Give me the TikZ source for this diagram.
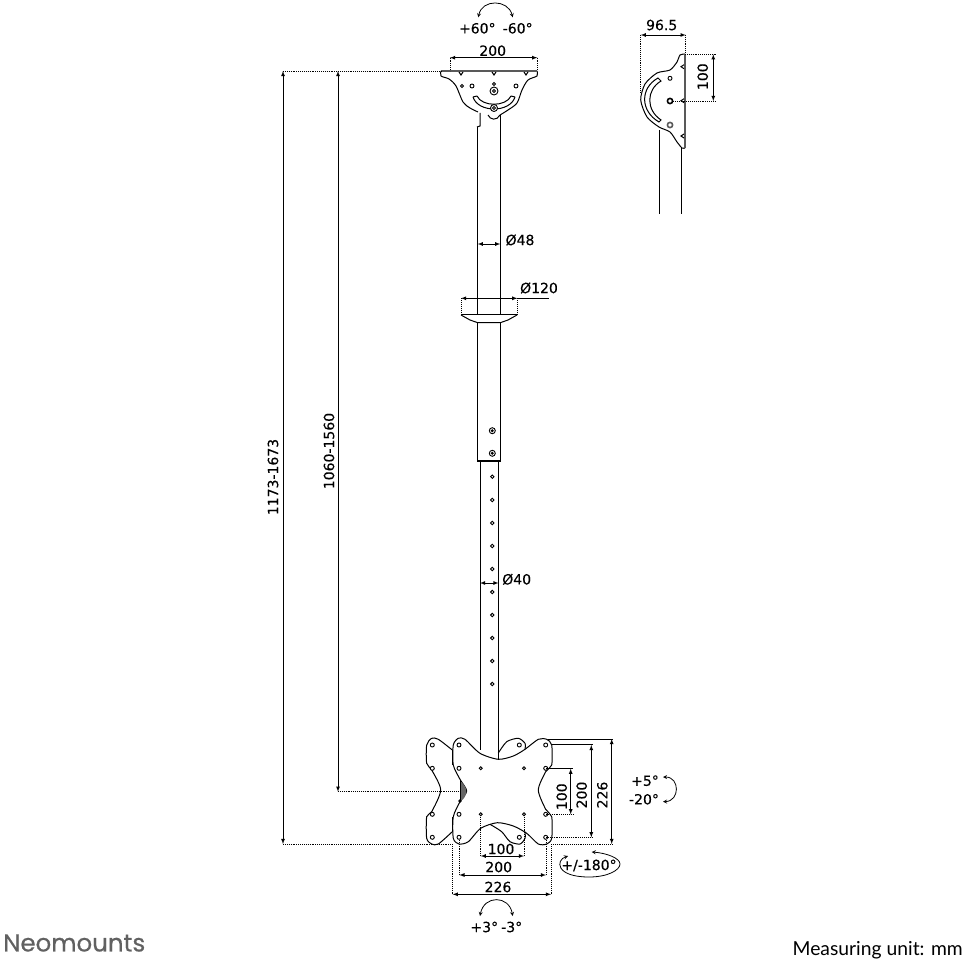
\documentclass[tikz,border=0pt]{standalone}
\usepackage{fontspec}
\setmainfont[FakeBold=0.25]{DejaVu Sans}
\newfontfamily\logofont[FakeBold=0.5]{Poppins}
\newfontfamily\unitfont{Lato}
\usepgflibrary{arrows}
\tikzset{
  partline/.style={line width=1pt},
  dimline/.style={line width=.8pt,<->,>=latex},
  helpline/.style={line width=.9pt,densely dotted},
  turnline/.style={line width=.8pt,<->,>=stealth},
  platebar/.style={line width=1.8pt,black!65},
  dimlabel/.style={font=\fontsize{14}{14}\selectfont,inner sep=0pt},
  hole/.style={line width=.9pt,draw,fill=white},
}
\begin{document}
\begin{tikzpicture}[x=1pt,y=-1pt]
  \useasboundingbox (0,0) rectangle (968,968);
  % ceiling bracket, front
  \draw[partline] plot[smooth,tension=.5] coordinates {(441,71) (441,76) (449,79) (456,86) (463,102) (470,108) (478,112)};
  \draw[partline] plot[smooth,tension=.5] coordinates {(537,71) (537,76) (528,80) (522,90) (517,103) (508,110) (500,115)};
  \draw[platebar] (441,71) -- (537,71);
  \foreach \x in {461,494,526}
    \draw[partline] (\x-2,72) -- (\x,75) -- (\x+2,72);
  \draw[partline] (473,97) .. controls (478,113) and (510,113) .. (515,97);
  \draw[partline] (477,96) .. controls (482,107) and (506,107) .. (511,96);
  \draw[partline] (473,97) -- (477,96) (515,97) -- (511,96);
  \foreach \x/\r in {462/1.5,472/2,516/2}
    \draw[hole] (\x,86) circle (\r);
  \draw[hole] (494,84) circle (1.5);
  \draw[hole] (494,91) circle (4);
  \draw[hole] (494,91) circle (1.5);
  \draw[hole] (494,108) circle (3.5);
  \draw[hole] (494,108) circle (1.5);
  \draw[partline] (488,115) .. controls (490,120) and (497,121) .. (500,115);
  % pole
  \draw[partline] (480,113) -- (480,126) -- (477,127);
  \draw[partline] (477.7,127) -- (477.7,314) (500.3,115) -- (500.3,314);
  \draw[line width=1.8pt] (461,314.5) -- (517,314.5);
  \draw[partline] (461,315) -- (470,320) -- (477.7,322.7) -- (500.3,322.7) -- (508,320) -- (517,315);
  \draw[partline] (477.7,323) -- (477.7,460) (500.3,323) -- (500.3,460);
  \draw[line width=1.6pt] (477,461) -- (501,461);
  \draw[partline] (480,462) -- (480,750) (498.5,462) -- (498.5,759);
  \foreach \y in {430.7,453.3} {
    \draw[hole] (492.3,\y) circle (3);
    \draw[hole] (492.3,\y) circle (1);
  }
  \foreach \y in {476.7,500,523,546,569,592,615,638,661,684}
    \draw[hole] (492.3,\y) circle (1.7);
  % rear plate
  \draw[partline] plot[smooth,tension=.45] coordinates {(452.3,750) (438.3,739.3) (431.7,738.3) (426.7,745) (426.7,763.3) (431.7,770) (440.7,790) (431.7,811.7) (426.7,816.7) (426.7,838.3) (431.7,844) (438.3,844) (452.3,831.7)};
  \draw[partline] plot[smooth,tension=.45] coordinates {(498.3,753) (506.7,741.7) (518.3,738.3) (525,743.3) (525,749.3)};
  \draw[partline] plot[smooth,tension=.45] coordinates {(490,824.3) (501.7,831.7) (510,841.7) (520,844) (525,838.3) (525,831.7)};
  % front plate
  \draw[partline] plot[smooth cycle,tension=.45] coordinates {(453.3,745) (458.3,738.3) (465,739.3) (480,753.3) (498.3,759.3) (513.3,756) (525,749.3) (538.3,739.3) (546.7,739.3) (551.7,745) (551.7,765) (545.7,771.7) (538.3,790) (545.7,809.3) (551.7,816.7) (551.7,838.3) (546.7,844) (538.3,844) (526.7,833.3) (513.3,826) (497.3,822.7) (480.7,828.3) (468.3,841.7) (459,844) (453.3,838.3) (453.3,816.7) (460,801.7) (466.7,791) (460,779.3) (453.3,765)};
  \draw[line width=1.6pt] (452.5,750) -- (452.5,765) (452.5,817) -- (452.5,832);
  \draw[line width=1.6pt] (460.5,780) -- (460.5,801);
  \fill[black!60] (461,782) .. controls (468,787) and (468,796) .. (461,801) -- cycle;
  \fill (460,801) circle (1.8);
  \foreach \x in {432.3,459,519.3,545.7}
    \foreach \y in {745,837.3}
      \draw[hole] (\x,\y) circle (2);
  \foreach \x in {432.3,459,545.7}
    \foreach \y in {768.3,814.3}
      \draw[hole] (\x,\y) circle (2);
  \foreach \x in {480.7,524}
    \foreach \y in {768.3,814.3}
      \draw[hole] (\x,\y) circle (1.5);
  % side view
  \draw[partline] plot[smooth,tension=.45] coordinates {(685,54) (680,55) (677,62) (670,70) (657,73) (645,84) (640.7,100) (647,117) (659,127) (670,132) (677,142) (682,148) (685,148)};
  \draw[partline] (658,78) .. controls (640,88) and (640,111) .. (659,122) -- (661,120) .. controls (646,110) and (646,90) .. (661,81) -- cycle;
  \draw[platebar] (684.7,54) -- (684.7,148.3);
  \foreach \y in {66.7,100.7,136}
    \draw[partline] (684,\y-2) -- (681,\y) -- (684,\y+2);
  \draw[hole] (670,78.3) circle (2);
  \draw[hole,line width=1.6pt] (670,101) circle (2.6);
  \draw[hole,line width=1.6pt,draw=black!65] (670,125) circle (2.6);
  \draw[partline] (659,130) -- (659,214) (681.7,148) -- (681.7,214);
  % overall heights
  \coordinate (tophigh) at (283,71);
  \coordinate (toplow) at (338,71);
  \coordinate (baselong) at (283,844);
  \coordinate (baseshort) at (338,791.7);
  \draw[helpline] (tophigh) -- (441,71);
  \draw[helpline] (baselong) -- (453,844);
  \draw[helpline] (baseshort) -- (458,791.7);
  \draw[dimline] (tophigh) -- (baselong);
  \draw[dimline] (toplow) -- (baseshort);
  \node[dimlabel,rotate=90] (longtext) at (273,477) {1173-1673};
  \node[dimlabel,rotate=90] (shorttext) at (329,451) {1060-1560};
  % top dimensions
  \coordinate (widthl) at (450,57.7);
  \coordinate (widthr) at (537.3,57.7);
  \draw[helpline] (widthl) -- (450,71) (widthr) -- (537.3,71);
  \draw[dimline] (widthl) -- (widthr);
  \node[dimlabel] (widthtext) at (492.7,50.7) {200};
  \node[dimlabel] (tiltl) at (477.3,28.3) {+60°};
  \node[dimlabel] (tiltr) at (517.7,28.3) {-60°};
  \draw[turnline] (478.3,17.3) .. controls (482,-1) and (508,-1) .. (512.7,17.3);
  % side view dimensions
  \coordinate (depthl) at (640.7,35);
  \coordinate (depthr) at (685.7,35);
  \coordinate (riseu) at (713.3,54.3);
  \coordinate (rised) at (713.3,101);
  \draw[helpline] (depthl) -- (640.7,93) (depthr) -- (685.7,54);
  \draw[helpline] (685,54.3) -- (716,54.3) (673,101) -- (716,101);
  \draw[dimline] (depthl) -- (depthr);
  \draw[dimline] (riseu) -- (rised);
  \node[dimlabel] (depthtext) at (661.7,25) {96.5};
  \node[dimlabel,rotate=90] (risetext) at (702.7,76.7) {100};
  % pole diameters
  \coordinate (thinl) at (477.7,244);
  \coordinate (thinr) at (500.3,244);
  \coordinate (collarl) at (461,298.3);
  \coordinate (collarr) at (517.3,298.3);
  \coordinate (lowl) at (480,583);
  \coordinate (lowr) at (498.5,583);
  \draw[dimline] (thinl) -- (thinr);
  \draw[helpline] (collarl) -- (461,314) (collarr) -- (517.3,314);
  \draw[dimline] (collarl) -- (collarr);
  \draw[line width=.8pt] (collarr) -- (549,298.3);
  \draw[dimline] (lowl) -- (lowr);
  \node[dimlabel] (thintext) at (520,240) {Ø48};
  \node[dimlabel] (collartext) at (539,288) {Ø120};
  \node[dimlabel] (lowtext) at (516.7,579.3) {Ø40};
  % bottom dimensions
  \coordinate (holel) at (480.7,856);
  \coordinate (holer) at (524,856);
  \coordinate (midl) at (459.3,875);
  \coordinate (midr) at (546,875);
  \coordinate (outl) at (452.7,894.3);
  \coordinate (outr) at (551,894.3);
  \draw[helpline] (holel) -- (480.7,815) (holer) -- (524,815);
  \draw[helpline] (midl) -- (459.3,840) (midr) -- (546,840);
  \draw[helpline] (outl) -- (452.7,844) (outr) -- (551,844);
  \draw[dimline] (holel) -- (holer);
  \draw[dimline] (midl) -- (midr);
  \draw[dimline] (outl) -- (outr);
  \node[dimlabel] (holetext) at (501,849) {100};
  \node[dimlabel] (midtext) at (498.7,867) {200};
  \node[dimlabel] (outtext) at (498,887) {226};
  \node[dimlabel] (swingl) at (484.3,927) {+3°};
  \node[dimlabel] (swingr) at (511.7,927) {-3°};
  \draw[turnline] (480,916) .. controls (484,895) and (509,895) .. (512.7,916);
  % right dimensions
  \coordinate (holeu) at (570.7,768.7);
  \coordinate (holed) at (570.7,814.3);
  \coordinate (midu) at (591.3,745);
  \coordinate (midd) at (591.3,837.3);
  \coordinate (outu) at (611.7,739);
  \coordinate (outd) at (611.7,844);
  \draw[partline] (548,739) -- (613,739) (551,744.3) -- (593,744.3) (546,768.7) -- (572.7,768.7);
  \draw[helpline] (546,814.3) -- (574,814.3) (546,837.3) -- (593,837.3) (551,844) -- (613,844);
  \draw[dimline] (holeu) -- (holed);
  \draw[dimline] (midu) -- (midd);
  \draw[dimline] (outu) -- (outd);
  \node[dimlabel,rotate=90] (holeside) at (561.7,796.7) {100};
  \node[dimlabel,rotate=90] (midside) at (581.7,795) {200};
  \node[dimlabel,rotate=90] (outside) at (602.3,795) {226};
  \node[dimlabel] (tiltup) at (645,780.7) {+5°};
  \node[dimlabel] (tiltdown) at (644,799.3) {-20°};
  \draw[turnline] (663,777) .. controls (680,777) and (680,801) .. (663,801.7);
  % rotation mark
  \node[dimlabel] (turntext) at (589,865.5) {+/-180°};
  \draw[turnline] (568,856) .. controls (556,860) and (555,877) .. (589,877) .. controls (608,877) and (620,870) .. (620,864) .. controls (620,858) and (606,853) .. (591.7,852);
  % captions
  \node[inner sep=0pt,anchor=west,text=black!62,font=\logofont\fontsize{24.5}{24.5}\selectfont] (brand) at (3,943) {Neomounts};
  \node[inner sep=0pt,anchor=east,font=\unitfont\fontsize{19.3}{19.3}\selectfont] (unit) at (963,950) {Measuring unit: mm};
\end{tikzpicture}
\end{document}
